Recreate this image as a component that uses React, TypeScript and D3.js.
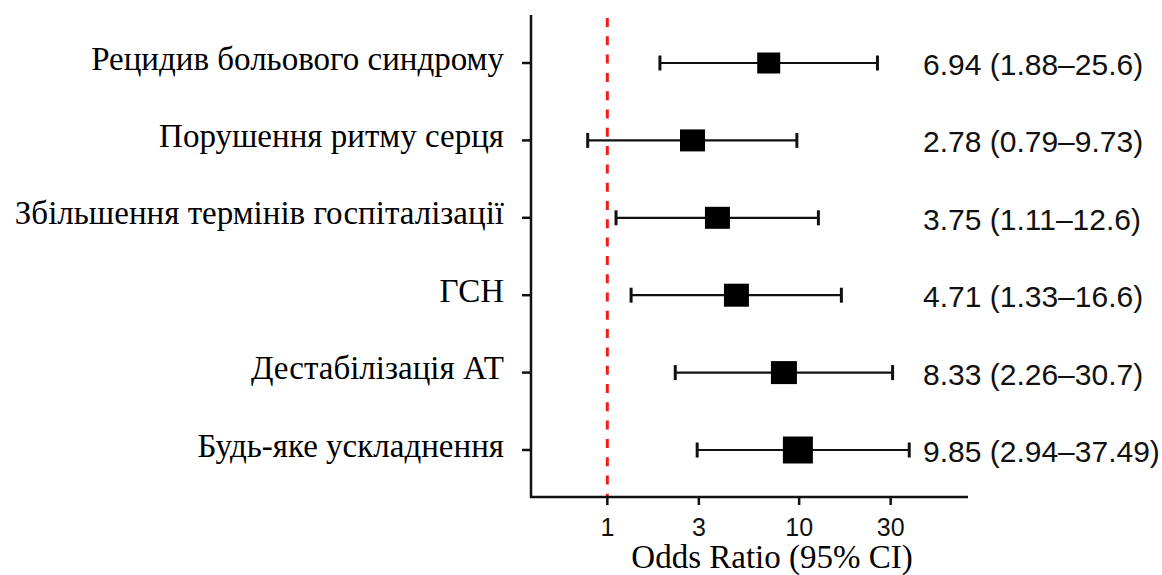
import React from "react";
import * as d3 from "d3";

const categories = [
  "Рецидив больового синдрому",
  "Порушення ритму серця",
  "Збільшення термінів госпіталізації",
  "ГСН",
  "Дестабілізація АТ",
  "Будь-яке ускладнення",
];
const oddsRatio = [6.94, 2.78, 3.75, 4.71, 8.33, 9.85];
const ciLower = [1.88, 0.79, 1.11, 1.33, 2.26, 2.94];
const ciUpper = [25.6, 9.73, 12.6, 16.6, 30.7, 37.49];
const ciLabels = [
  "6.94 (1.88–25.6)",
  "2.78 (0.79–9.73)",
  "3.75 (1.11–12.6)",
  "4.71 (1.33–16.6)",
  "8.33 (2.26–30.7)",
  "9.85 (2.94–37.49)",
];
const xTicks = [1, 3, 10, 30];
const xTitle = "Odds Ratio (95% CI)";

// marker sizes (style)
const markerW = [23, 25, 25, 25, 26, 30];
const markerH = [21, 22, 22, 23, 23, 27];

const W = 1162;
const H = 575;
const axisX = 531;
const axisRight = 968;
const axisTop = 15;
const axisBottom = 497;

export default function App() {
  const x = d3.scaleLog().domain([0.4, 75]).range([axisX, 967]);
  const y = d3.scalePoint<string>().domain(categories).range([63, 450]);
  const serif = "'Liberation Serif', 'Times New Roman', serif";
  const sans = "'Liberation Sans', Arial, sans-serif";

  return (
    <svg
      width={W}
      height={H}
      style={{ position: "absolute", left: 0, top: 0, background: "#fff" }}
    >
      {/* reference line at OR = 1 */}
      <line
        x1={x(1)}
        x2={x(1)}
        y1={18}
        y2={axisBottom}
        stroke="#f01c1c"
        strokeWidth={3}
        strokeDasharray="9 9.3"
      />
      {/* axes */}
      <line x1={axisX} x2={axisX} y1={axisTop} y2={axisBottom + 1} stroke="#111" strokeWidth={2.5} />
      <line x1={axisX - 1} x2={axisRight} y1={axisBottom} y2={axisBottom} stroke="#111" strokeWidth={2.5} />
      {xTicks.map((t) => (
        <g key={t}>
          <line x1={x(t)} x2={x(t)} y1={axisBottom} y2={axisBottom + 8} stroke="#111" strokeWidth={2.5} />
          <text
            x={x(t)}
            y={536}
            textAnchor="middle"
            fontFamily={sans}
            fontSize={25}
            fill="#111"
          >
            {t}
          </text>
        </g>
      ))}
      <text x={772} y={568} textAnchor="middle" fontFamily={serif} fontSize={33} fill="#000">
        {xTitle}
      </text>
      {categories.map((c, i) => {
        const yy = y(c)!;
        return (
          <g key={c}>
            <line x1={axisX - 9} x2={axisX} y1={yy} y2={yy} stroke="#111" strokeWidth={2.5} />
            <text x={504} y={yy + 6.5} textAnchor="end" fontFamily={serif} fontSize={33} fill="#000">
              {c}
            </text>
            <line x1={x(ciLower[i])} x2={x(ciUpper[i])} y1={yy} y2={yy} stroke="#111" strokeWidth={2.2} />
            <line x1={x(ciLower[i])} x2={x(ciLower[i])} y1={yy - 7.5} y2={yy + 7.5} stroke="#111" strokeWidth={3} />
            <line x1={x(ciUpper[i])} x2={x(ciUpper[i])} y1={yy - 7.5} y2={yy + 7.5} stroke="#111" strokeWidth={3} />
            <rect
              x={x(oddsRatio[i]) - markerW[i] / 2}
              y={yy - markerH[i] / 2}
              width={markerW[i]}
              height={markerH[i]}
              fill="#000"
            />
            <text x={923} y={yy + 12} fontFamily={sans} fontSize={30} fill="#111">
              {ciLabels[i]}
            </text>
          </g>
        );
      })}
    </svg>
  );
}
